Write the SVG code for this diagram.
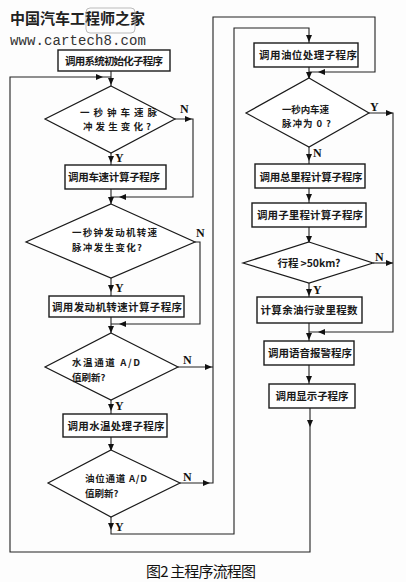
<svg xmlns="http://www.w3.org/2000/svg" width="406" height="582" viewBox="0 0 406 582">
<style>
.bg{fill:#fdfdfd}
.box{fill:#fff;stroke:#1a1a1a;stroke-width:1.4}
.dia{fill:#fff;stroke:#1a1a1a;stroke-width:1.2}
.ln{fill:none;stroke:#222;stroke-width:1.1}
.ah{fill:#111}
.t{font-family:"Noto Sans CJK SC","Noto Sans",sans-serif;font-size:10.5px;font-weight:bold;fill:#1a1a1a}
.d{font-size:9.5px}
.tm{text-anchor:middle}
.yn{font-family:"Liberation Serif",serif;font-size:12px;font-weight:bold;fill:#111}
.cap{font-family:"Noto Sans CJK SC","Noto Sans",sans-serif;font-size:15px;fill:#111}
.wm{font-family:"Noto Sans CJK SC",sans-serif;font-size:15px;font-weight:bold;fill:#222}
.wu{font-family:"Liberation Mono",monospace;font-size:14px;fill:#333}
</style>
<defs>
<path id="ad" d="M-3,-4 L3,-4 L0,3 Z"/>
<path id="ar" d="M-4,-3 L-4,3 L3,0 Z"/>
<path id="al" d="M4,-3 L4,3 L-3,0 Z"/>
</defs>
<rect class="bg" x="0" y="0" width="406" height="582"/>
<g id="watermark">
<text class="wm" x="10" y="24" textLength="135" lengthAdjust="spacing">中国汽车工程师之家</text>
<rect x="86" y="8" width="49" height="25" rx="4" fill="none" stroke="#aaa" stroke-width="0.8"/>
<text class="wu" x="10" y="45" textLength="136" lengthAdjust="spacing">www.cartech8.com</text>
</g>
<g id="connectors">
<path class="ln" d="M111,71 V86"/>
<path class="ln" d="M310,408 V552 H10 V77 H111"/>
<path class="ln" d="M175,119 H193 V197 H111"/>
<path class="ln" d="M111,153 V165"/>
<path class="ln" d="M111,189 V204"/>
<path class="ln" d="M195,242 H200 V324 H111"/>
<path class="ln" d="M111,278 V296"/>
<path class="ln" d="M111,317 V333"/>
<path class="ln" d="M111,400 V414"/>
<path class="ln" d="M111,437 V450"/>
<path class="ln" d="M178,367 H213"/>
<path class="ln" d="M180,483 H213 V17 H375 V72 H309"/>
<path class="ln" d="M111,517 V534 H234 V28 H309 V43"/>
<path class="ln" d="M309,67 V78"/>
<path class="ln" d="M369,113 H393 V332 H309"/>
<path class="ln" d="M309,147 V164"/>
<path class="ln" d="M309,188 V203"/>
<path class="ln" d="M309,227 V242"/>
<path class="ln" d="M373,263 H393"/>
<path class="ln" d="M309,283 V297"/>
<path class="ln" d="M309,323 V341"/>
<path class="ln" d="M309,365 V384"/>
<g class="ah">
<use href="#ad" x="310" y="424"/>
<use href="#ar" x="100" y="77"/>
<use href="#ad" x="111" y="82"/>
<use href="#ar" x="189" y="119"/>
<use href="#al" x="122" y="197"/>
<use href="#ad" x="111" y="160"/>
<use href="#ad" x="111" y="201"/>
<use href="#al" x="122" y="324"/>
<use href="#ad" x="111" y="289"/>
<use href="#ad" x="111" y="330"/>
<use href="#ad" x="111" y="408"/>
<use href="#ad" x="111" y="448"/>
<use href="#ar" x="209" y="367"/>
<use href="#ar" x="207" y="483"/>
<use href="#al" x="321" y="72"/>
<use href="#ad" x="111" y="527"/>
<use href="#ad" x="309" y="39"/>
<use href="#ad" x="309" y="76"/>
<use href="#ar" x="390" y="113"/>
<use href="#al" x="321" y="332"/>
<use href="#ad" x="309" y="158"/>
<use href="#ad" x="309" y="198"/>
<use href="#ad" x="309" y="240"/>
<use href="#ar" x="390" y="263"/>
<use href="#ad" x="309" y="293"/>
<use href="#ad" x="309" y="337"/>
<use href="#ad" x="309" y="380"/>
</g>
<g id="labels">
<text class="yn" x="180" y="113">N</text>
<text class="yn" x="115" y="162">Y</text>
<text class="yn" x="196" y="237">N</text>
<text class="yn" x="115" y="292">Y</text>
<text class="yn" x="183" y="364">N</text>
<text class="yn" x="115" y="410">Y</text>
<text class="yn" x="183" y="481">N</text>
<text class="yn" x="115" y="531">Y</text>
<text class="yn" x="370" y="111">Y</text>
<text class="yn" x="313" y="157">N</text>
<text class="yn" x="375" y="261">N</text>
<text class="yn" x="313" y="294">Y</text>
</g>
</g>
<g id="n1"><rect class="box" x="58" y="50" width="112" height="21"/><text class="t tm" x="114" y="64.5" textLength="98" lengthAdjust="spacing">调用系统初始化子程序</text></g>
<g id="n2"><polygon class="dia" points="111,86 175,119 111,153 45,119"/><text class="t d" x="80" y="116" textLength="77" lengthAdjust="spacing">一秒钟车速脉</text><text class="t d" x="83" y="129.5" textLength="68" lengthAdjust="spacing">冲发生变化?</text></g>
<g id="n3"><rect class="box" x="65" y="165" width="101" height="24"/><text class="t tm" x="114" y="181" textLength="92" lengthAdjust="spacing">调用车速计算子程序</text></g>
<g id="n4"><polygon class="dia" points="111,204 195,242 111,278 26,242"/><text class="t d" x="72" y="236" textLength="85" lengthAdjust="spacing">一秒钟发动机转速</text><text class="t d" x="72" y="250.5" textLength="70" lengthAdjust="spacing">脉冲发生变化?</text></g>
<g id="n5"><rect class="box" x="49" y="296" width="135" height="21"/><text class="t tm" x="117" y="310.5" textLength="130" lengthAdjust="spacing">调用发动机转速计算子程序</text></g>
<g id="n6"><polygon class="dia" points="111,333 178,367 111,400 45,367"/><text class="t d" x="72" y="366" textLength="68" lengthAdjust="spacing">水温通道 A/D</text><text class="t d" x="72" y="380.5">值刷新?</text></g>
<g id="n7"><rect class="box" x="63" y="414" width="104" height="23"/><text class="t tm" x="116" y="429.5" textLength="97" lengthAdjust="spacing">调用水温处理子程序</text></g>
<g id="n8"><polygon class="dia" points="111,450 180,483 111,517 48,483"/><text class="t d" x="85" y="482" textLength="62" lengthAdjust="spacing">油位通道 A/D</text><text class="t d" x="85" y="496.5">值刷新?</text></g>
<g id="n9"><rect class="box" x="254" y="43" width="104" height="24"/><text class="t tm" x="308" y="58.5" textLength="98" lengthAdjust="spacing">调用油位处理子程序</text></g>
<g id="n10"><polygon class="dia" points="309,78 369,113 309,147 246,113"/><text class="t d" x="282" y="112.5" textLength="47" lengthAdjust="spacing">一秒内车速</text><text class="t d" x="282" y="126.5" textLength="49" lengthAdjust="spacing">脉冲为 0 ?</text></g>
<g id="n11"><rect class="box" x="255" y="164" width="110" height="24"/><text class="t tm" x="311" y="180.5" textLength="103" lengthAdjust="spacing">调用总里程计算子程序</text></g>
<g id="n12"><rect class="box" x="252" y="203" width="114" height="24"/><text class="t tm" x="310" y="219" textLength="106" lengthAdjust="spacing">调用子里程计算子程序</text></g>
<g id="n13"><polygon class="dia" points="309,242 373,263 309,283 243,263"/><text class="t tm" x="309" y="267" textLength="63" lengthAdjust="spacing">行程 &gt;50km?</text></g>
<g id="n14"><rect class="box" x="257" y="297" width="105" height="26"/><text class="t tm" x="309" y="314" textLength="97" lengthAdjust="spacing">计算余油行驶里程数</text></g>
<g id="n15"><rect class="box" x="264" y="341" width="90" height="24"/><text class="t tm" x="310" y="357" textLength="84" lengthAdjust="spacing">调用语音报警程序</text></g>
<g id="n16"><rect class="box" x="269" y="384" width="86" height="24"/><text class="t tm" x="312" y="400" textLength="73" lengthAdjust="spacing">调用显示子程序</text></g>
<text class="cap" x="146" y="577" textLength="110" lengthAdjust="spacing">图2 主程序流程图</text>
</svg>
